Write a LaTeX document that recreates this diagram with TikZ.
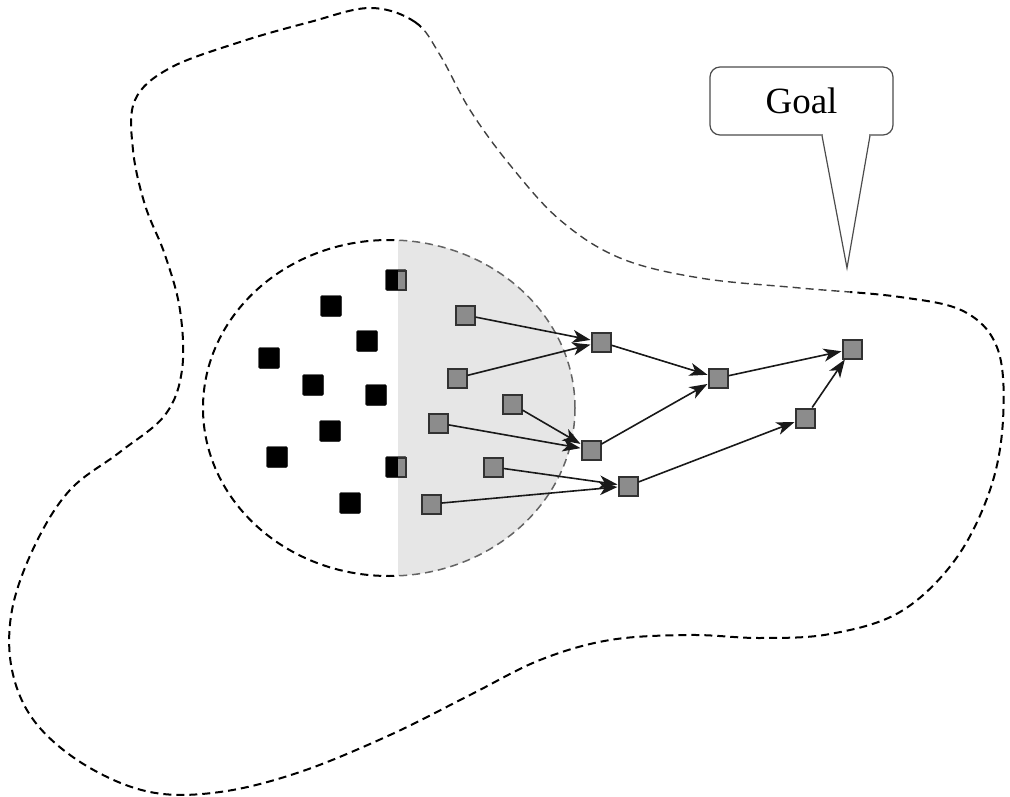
\documentclass[tikz,border=0pt]{standalone}
\usepackage{fontspec}
\setmainfont{Liberation Serif}
\usetikzlibrary{arrows.meta,calc}
\definecolor{sqfill}{RGB}{140,140,140}
\definecolor{sqline}{RGB}{50,50,50}
\definecolor{lightfill}{RGB}{230,230,230}
\definecolor{lightdash}{RGB}{100,100,100}
\begin{document}
\begin{tikzpicture}[x=1pt,y=-1pt,
  blk/.style={fill=black,draw=black,minimum size=21pt,inner sep=0pt,rounded corners=1.5pt},
  gsq/.style={fill=sqfill,draw=sqline,line width=2pt,minimum size=19pt,inner sep=0pt},
  region/.style={dash pattern=on 8pt off 5pt,line width=2pt},
  arr/.style={-{Stealth[length=18pt,width=13pt,inset=5pt]},line width=1.6pt,draw=black!90},
  callout/.style={draw=black!70,line width=1.2pt}]
\useasboundingbox (0,0) rectangle (1010,797);
\def\blobpath{plot[smooth cycle,tension=0.6] coordinates {
 (370,8) (415,22) (440,55) (470,110) (510,165) (560,220) (620,258) (700,278)
 (800,288) (900,297) (965,312) (998,350) (1003,420) (990,490) (955,560)
 (900,612) (830,634) (760,638) (690,635) (610,640) (540,660) (470,695)
 (390,735) (300,772) (220,792) (150,792) (85,765) (35,722) (12,670) (12,610)
 (35,545) (70,490) (120,452) (165,415) (182,370) (180,310) (165,255)
 (145,205) (133,150) (135,100) (170,68) (240,42) (310,22)}}
\def\diagzone{(430,20) -- (480,60) -- (600,200) -- (700,250) -- (850,265) -- (850,320) -- (700,300) -- (600,285) -- (520,210) -- (430,100) -- (410,50) -- cycle}
% outer region: main part
\begin{scope}[even odd rule]
 \clip (0,0) rectangle (1010,797) \diagzone;
 \draw[region] \blobpath;
\end{scope}
% outer region: lighter diagonal part
\begin{scope}
 \clip \diagzone;
 \draw[region,draw=black!75,line width=1.4pt] \blobpath;
\end{scope}
% inner ellipse
\begin{scope}
 \clip (398,200) rectangle (620,620);
 \fill[lightfill] (389,408) ellipse [x radius=186, y radius=168];
 \draw[region,draw=lightdash,line width=1.5pt] (389,408) ellipse [x radius=186, y radius=168];
\end{scope}
\begin{scope}
 \clip (150,200) rectangle (398,620);
 \draw[region] (389,408) ellipse [x radius=186, y radius=168];
\end{scope}
% black squares
\node[blk] (b1) at (396,280) {};
\node[blk] (b2) at (331,306) {};
\node[blk] (b3) at (367,341) {};
\node[blk] (b4) at (269,358) {};
\node[blk] (b5) at (313,385) {};
\node[blk] (b6) at (376,395) {};
\node[blk] (b7) at (330,431) {};
\node[blk] (b8) at (277,457) {};
\node[blk] (b9) at (396,467) {};
\node[blk] (b10) at (350,503) {};
\begin{scope}
 \clip (398,200) rectangle (420,620);
 \node[gsq] at (396,280) {};
 \node[gsq] at (396,467) {};
\end{scope}
% gray squares
\node[gsq] (g1) at (465,315) {};
\node[gsq] (g2) at (457,378) {};
\node[gsq] (g3) at (438,423) {};
\node[gsq] (g4) at (512,404) {};
\node[gsq] (g5) at (493,467) {};
\node[gsq] (g6) at (431,504) {};
\node[gsq] (h1) at (601,342) {};
\node[gsq] (h2) at (591,450) {};
\node[gsq] (h3) at (628,486) {};
\node[gsq] (k1) at (718,378) {};
\node[gsq] (k2) at (805,418) {};
\node[gsq] (goalsq) at (852,349) {};
% arrows
\draw[arr] (g1) -- (h1);
\draw[arr] (g2) -- (h1);
\draw[arr] (g3) -- (h2);
\draw[arr] (g4) -- (h2);
\draw[arr] (g5) -- (h3);
\draw[arr] (g6) -- (h3);
\draw[arr] (h1) -- (k1);
\draw[arr] (h2) -- (k1);
\draw[arr] (k1) -- (goalsq);
\draw[arr] (h3) -- (k2);
\draw[arr] (k2) -- (goalsq);
% callout
\node[callout,rounded corners=10pt,minimum width=183pt,minimum height=68pt,
  font=\fontsize{37}{43}\selectfont] (goal) at (801.5,101) {Goal};
\coordinate (tip) at (847,268);
\fill[white] (823,132) rectangle (869,138);
\draw[callout,line join=miter] ($(goal.south)+(20.5,0)$) -- (tip) -- ($(goal.south)+(68.5,0)$);
\end{tikzpicture}
\end{document}
